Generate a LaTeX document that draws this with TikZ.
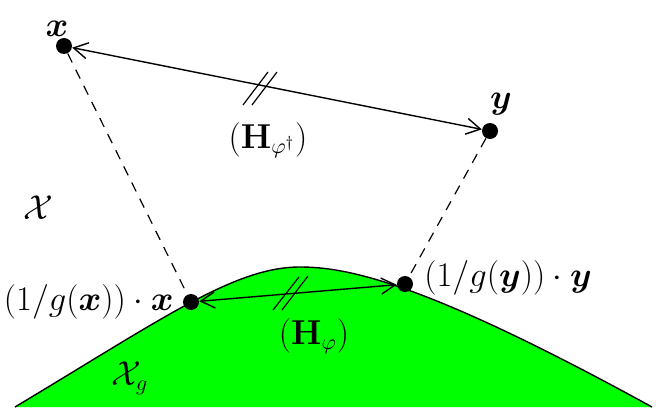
\documentclass[tikz,border=0pt]{standalone}
\usepackage{amsmath,bm}
\usetikzlibrary{arrows.meta}
\begin{document}
\begin{tikzpicture}[x=0.5pt,y=-0.5pt,
  dot/.style={circle,fill=black,inner sep=0pt,minimum size=8pt},
  conn/.style={line width=0.7pt,{Straight Barb[length=7pt,width=8pt]}-{Straight Barb[length=7pt,width=8pt]}},
  proj/.style={line width=0.6pt,dash pattern=on 5pt off 4pt},
  tick/.style={line width=0.6pt},
  lbl/.style={font=\fontsize{16}{19}\selectfont,inner sep=0pt}]
\useasboundingbox (0,0) rectangle (664,412);
\fill[green] (15,407) .. controls (165,317) and (235,267) .. (300,267)
  .. controls (350,267) and (430,285) .. (652,407) -- cycle;
\draw[line width=0.7pt] (15,407) .. controls (165,317) and (235,267) .. (300,267)
  .. controls (350,267) and (430,285) .. (652,407);
\node[dot] (x) at (64,46) {};
\node[dot] (y) at (490,131) {};
\node[dot] (xg) at (191,302) {};
\node[dot] (yg) at (405,284) {};
\draw[proj] (x) -- (xg);
\draw[proj] (y) -- (yg);
\draw[conn] (x) -- (y);
\draw[conn] (xg) -- (yg);
\draw[tick] (243,105) -- (268,72);
\draw[tick] (252,105) -- (277,72);
\draw[tick] (273,310) -- (299,277);
\draw[tick] (282,310) -- (308,276);
\node[lbl] (lx) at (57,29) {$\bm{x}$};
\node[lbl] (ly) at (501,104) {$\bm{y}$};
\node[lbl] (lX) at (38,208) {$\mathcal{X}$};
\node[lbl] (lXg) at (130,378) {$\mathcal{X}_g$};
\node[lbl,anchor=east] (lxg) at (174,302) {$(1/g(\bm{x}))\cdot\bm{x}$};
\node[lbl,anchor=west] (lyg) at (424,278) {$(1/g(\bm{y}))\cdot\bm{y}$};
\node[lbl] (lh1) at (268,140) {$(\mathbf{H}_{\varphi^\dagger})$};
\node[lbl] (lh2) at (314,336) {$(\mathbf{H}_{\varphi})$};
\end{tikzpicture}
\end{document}
